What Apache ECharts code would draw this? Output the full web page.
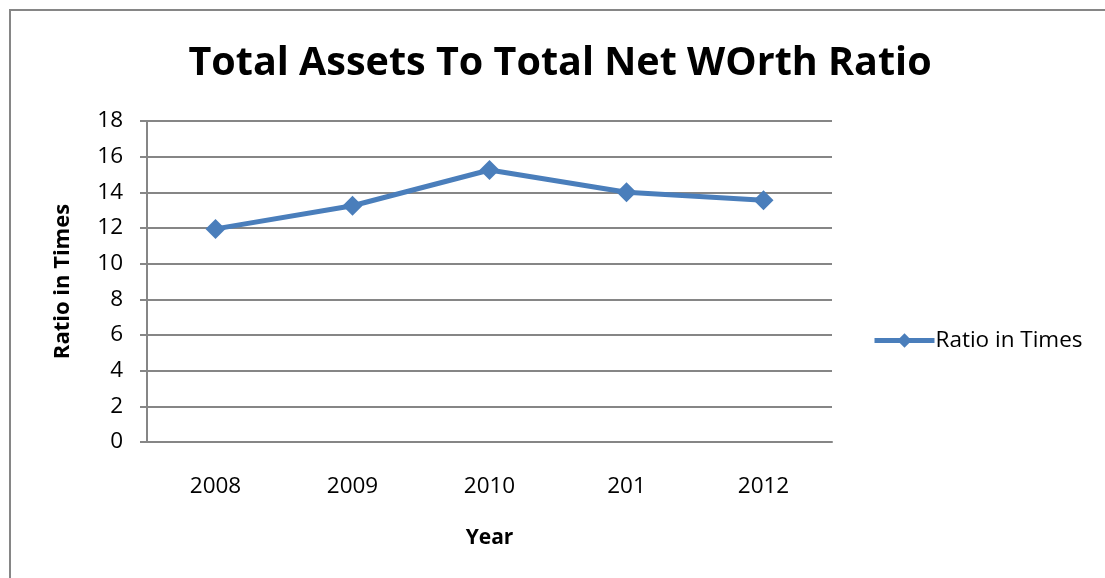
<!DOCTYPE html>
<html>
<head>
<meta charset="utf-8">
<script src="https://cdn.jsdelivr.net/npm/echarts@6/dist/echarts.min.js"></script>
<style>
html,body{margin:0;padding:0;background:#fff;overflow:hidden;}
#wrap{position:relative;width:1105px;height:578px;overflow:hidden;}
#chart{width:1105px;height:578px;}
#frame{position:absolute;left:9px;top:9px;width:1200px;height:700px;border-top:2px solid #868686;border-left:2px solid #868686;pointer-events:none;}
</style>
</head>
<body>
<div id="wrap">
<div id="chart"></div>
<div id="frame"></div>
</div>
<script>
var categories = ['2008', '2009', '2010', '201', '2012'];
var ratioValues = [11.95, 13.25, 15.25, 14.0, 13.55];
var yTicks = { min: 0, max: 18, interval: 2 };

var chart = echarts.init(document.getElementById('chart'));
var fontFamily = '"Open Sans", "Noto Sans", sans-serif';
chart.setOption({
  animation: false,
  backgroundColor: '#ffffff',
  title: {
    text: 'Total Assets To Total Net WOrth Ratio',
    left: 555, top: 39, textAlign: 'center',
    textStyle: { fontFamily: fontFamily, fontWeight: 'bold', fontSize: 39.5, color: '#000' }
  },
  legend: {
    data: ['Ratio in Times'],
    left: 867, top: 324,
    itemWidth: 60, itemHeight: 18, itemGap: 0,
    lineStyle: { width: 5, color: '#4a7ebb' },
    textStyle: { fontFamily: fontFamily, fontSize: 22.5, color: '#000', padding: [0,0,0,-4] }
  },
  grid: { left: 147, right: 273, top: 121, bottom: 136 },
  xAxis: {
    type: 'category',
    data: categories,
    boundaryGap: true,
    name: 'Year', nameLocation: 'middle', nameGap: 86,
    nameTextStyle: { fontFamily: fontFamily, fontWeight: 'bold', fontSize: 21, color: '#000' },
    axisLine: { lineStyle: { color: '#868686', width: 2 } },
    axisTick: { show: false },
    axisLabel: { fontFamily: fontFamily, fontSize: 22.5, color: '#000', margin: 33 }
  },
  yAxis: {
    type: 'value',
    min: yTicks.min, max: yTicks.max, interval: yTicks.interval,
    name: 'Ratio in Times', nameLocation: 'middle', nameGap: 73,
    nameTextStyle: { fontFamily: fontFamily, fontWeight: 'bold', fontSize: 22, color: '#000' },
    axisLine: { show: true, lineStyle: { color: '#868686', width: 2 } },
    axisTick: { show: true, length: 7, lineStyle: { color: '#868686', width: 2 } },
    splitLine: { lineStyle: { color: '#868686', width: 2 } },
    axisLabel: { fontFamily: fontFamily, fontSize: 22.5, color: '#000', margin: 24 }
  },
  series: [{
    name: 'Ratio in Times',
    type: 'line',
    data: ratioValues,
    symbol: 'diamond',
    symbolSize: 20,
    lineStyle: { color: '#4a7ebb', width: 5 },
    itemStyle: { color: '#4a7ebb' }
  }]
});
</script>
</body>
</html>
